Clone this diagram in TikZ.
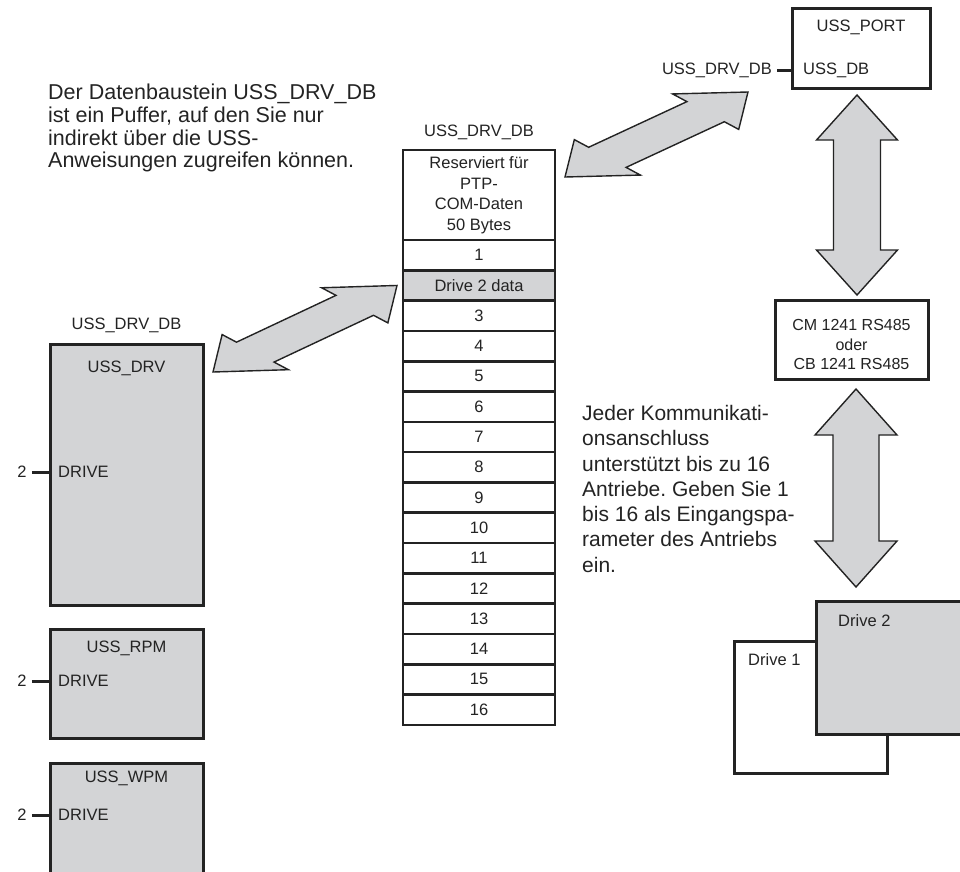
\documentclass[tikz,border=0pt]{standalone}
\usepackage{fontspec}
\setmainfont{Liberation Sans}
\usetikzlibrary{positioning,calc}
\frenchspacing

\definecolor{boxgray}{RGB}{211,212,214}
\definecolor{inkgray}{RGB}{35,35,35}

\newcommand{\smalltext}{\fontsize{16.5}{20}\selectfont}
\newcommand{\notetext}{\fontsize{21.5}{22.7}\selectfont}

% block arrow with two heads: tip A, tip B, head length, head half width, shaft half width, skew
\newcommand{\blockarrow}[6]{%
  \pgfmathsetmacro\hlshort{#3-#6*#4}%
  \pgfmathsetmacro\hllong{#3+#6*#4}%
  \pgfmathsetmacro\slshort{#3-#6*#5}%
  \pgfmathsetmacro\sllong{#3+#6*#5}%
  \draw[blockarr] (#1)
    -- ($(#1)!\hlshort pt!(#2)!#4pt!90:(#2)$)
    -- ($(#1)!\slshort pt!(#2)!#5pt!90:(#2)$)
    -- ($(#2)!\sllong pt!(#1)!#5pt!-90:(#1)$)
    -- ($(#2)!\hllong pt!(#1)!#4pt!-90:(#1)$)
    -- (#2)
    -- ($(#2)!\hlshort pt!(#1)!#4pt!90:(#1)$)
    -- ($(#2)!\slshort pt!(#1)!#5pt!90:(#1)$)
    -- ($(#1)!\sllong pt!(#2)!#5pt!-90:(#2)$)
    -- ($(#1)!\hllong pt!(#2)!#4pt!-90:(#2)$)
    -- cycle;}

\tikzset{
  plcbox/.style={draw=inkgray, line width=3pt, fill=boxgray, inner sep=0pt, outer sep=0pt, anchor=north west},
  whitebox/.style={plcbox, fill=white},
  rowbox/.style={draw=inkgray, line width=2.6pt, fill=white, minimum width=152pt, minimum height=30.3pt, inner sep=0pt, outer sep=0pt},
  pinline/.style={draw=inkgray, line width=3pt},
  blockarr/.style={draw=inkgray, line width=1.4pt, fill=boxgray, line join=miter},
  notebox/.style={align=left, font=\notetext, inner sep=0pt, anchor=north west},
}

\begin{document}
\begin{tikzpicture}[x=1pt, y=1pt, font=\smalltext, text=inkgray, every node/.style={inner sep=0pt}]
\useasboundingbox (0,0) rectangle (960,-871);
\clip (0,0) rectangle (960,-871);

% Hinweis links oben
\node[notebox] (hint) at (48,-84) {Der Datenbaustein USS\_DRV\_DB\\ist ein Puffer, auf den Sie nur\\indirekt über die USS-\\Anweisungen zugreifen können.};

% Datenbaustein in der Mitte
\node[rowbox, anchor=north west, minimum height=90pt, align=center, font=\fontsize{16.5}{20.5}\selectfont] (res) at (403,-150) {Reserviert für\\PTP-\\COM-Daten\\50 Bytes};
\node[rowbox, below=0pt of res] (r1) {1};
\node[rowbox, fill=boxgray, below=0pt of r1] (r2) {Drive 2 data};
\foreach \i [evaluate=\i as \j using int(\i-1)] in {3,...,16}
  \node[rowbox, below=0pt of r\j] (r\i) {\i};
\node[above=10pt of res] (dbname) {USS\_DRV\_DB};

% Anweisungen links
\node[plcbox, minimum width=153pt, minimum height=261pt] (drv) at (50,-344) {};
\node[above=11pt of drv] (drvdb) {USS\_DRV\_DB};
\node[below=17pt of drv.north] (drvname) {USS\_DRV};
\node[anchor=west] (drvin) at ($(drv.north west)+(8,-128)$) {DRIVE};
\node[inner xsep=5pt] (drvval) at (22,-472) {2};
\draw[pinline] (drvval) -- (drvval -| drv.west);

\node[plcbox, minimum width=153pt, minimum height=109pt] (rpm) at (50,-629) {};
\node[below=12pt of rpm.north] (rpmname) {USS\_RPM};
\node[anchor=west] (rpmin) at ($(rpm.north west)+(8,-52)$) {DRIVE};
\node[inner xsep=5pt] (rpmval) at (22,-681) {2};
\draw[pinline] (rpmval) -- (rpmval -| rpm.west);

\node[plcbox, minimum width=153pt, minimum height=130pt] (wpm) at (50,-763) {};
\node[below=8pt of wpm.north] (wpmname) {USS\_WPM};
\node[anchor=west] (wpmin) at ($(wpm.north west)+(8,-52)$) {DRIVE};
\node[inner xsep=5pt] (wpmval) at (22,-815) {2};
\draw[pinline] (wpmval) -- (wpmval -| wpm.west);

% Port und Kommunikationsmodul
\node[whitebox, minimum width=138pt, minimum height=80pt] (port) at (792,-8) {};
\node[below=12pt of port.north] (portname) {USS\_PORT};
\node[anchor=west] (portin) at ($(port.north west)+(11,-62)$) {USS\_DB};
\node[anchor=east, inner xsep=5pt] (portval) at (777,-70) {USS\_DRV\_DB};
\draw[pinline] (portval) -- (portval -| port.west);

\node[whitebox, minimum width=153pt, minimum height=79pt] (cm) at (775,-300) {};
\node[align=center, font=\fontsize{16}{19.5}\selectfont] (cmtext) at ($(cm.center)+(0,-5)$) {CM 1241 RS485\\oder\\CB 1241 RS485};

% Antriebe
\node[whitebox, minimum width=153pt, minimum height=132pt] (drive1) at (734,-641) {};
\node[plcbox, minimum width=170pt, minimum height=133pt] (drive2) at (816,-601) {};
\node[anchor=north west] (d1name) at ($(drive1.north west)+(14,-12)$) {Drive 1};
\node[anchor=north west] (d2name) at ($(drive2.north west)+(22,-13)$) {Drive 2};

\node[notebox, font=\fontsize{21}{25.3}\selectfont] (hint2) at (582,-405) {Jeder Kommunikati-\\onsanschluss\\unterstützt bis zu 16\\Antriebe. Geben Sie 1\\bis 16 als Eingangspa-\\rameter des Antriebs\\ein.};

% Blockpfeile
\coordinate (d1a) at ($(drv.north east)+(10,-28)$);
\coordinate (d1b) at ($(r2.west)+(-6,0)$);
\blockarrow{d1a}{d1b}{46.7}{30}{17}{0.75}
\coordinate (d2a) at ($(res.east)+(10,18)$);
\coordinate (d2b) at ($(port.west)+(-44,-44)$);
\blockarrow{d2a}{d2b}{46.7}{30}{17}{0.75}
\coordinate (v1a) at ($(port.south)+(-4,-7)$);
\coordinate (v1b) at ($(cm.north)+(5.5,5)$);
\blockarrow{v1a}{v1b}{45}{40.5}{23.5}{0}
\coordinate (v2a) at ($(cm.south)+(4.5,-10)$);
\coordinate (v2b) at ($(drive2.north)+(-45,14)$);
\blockarrow{v2a}{v2b}{46}{41}{23}{0}
\end{tikzpicture}
\end{document}
